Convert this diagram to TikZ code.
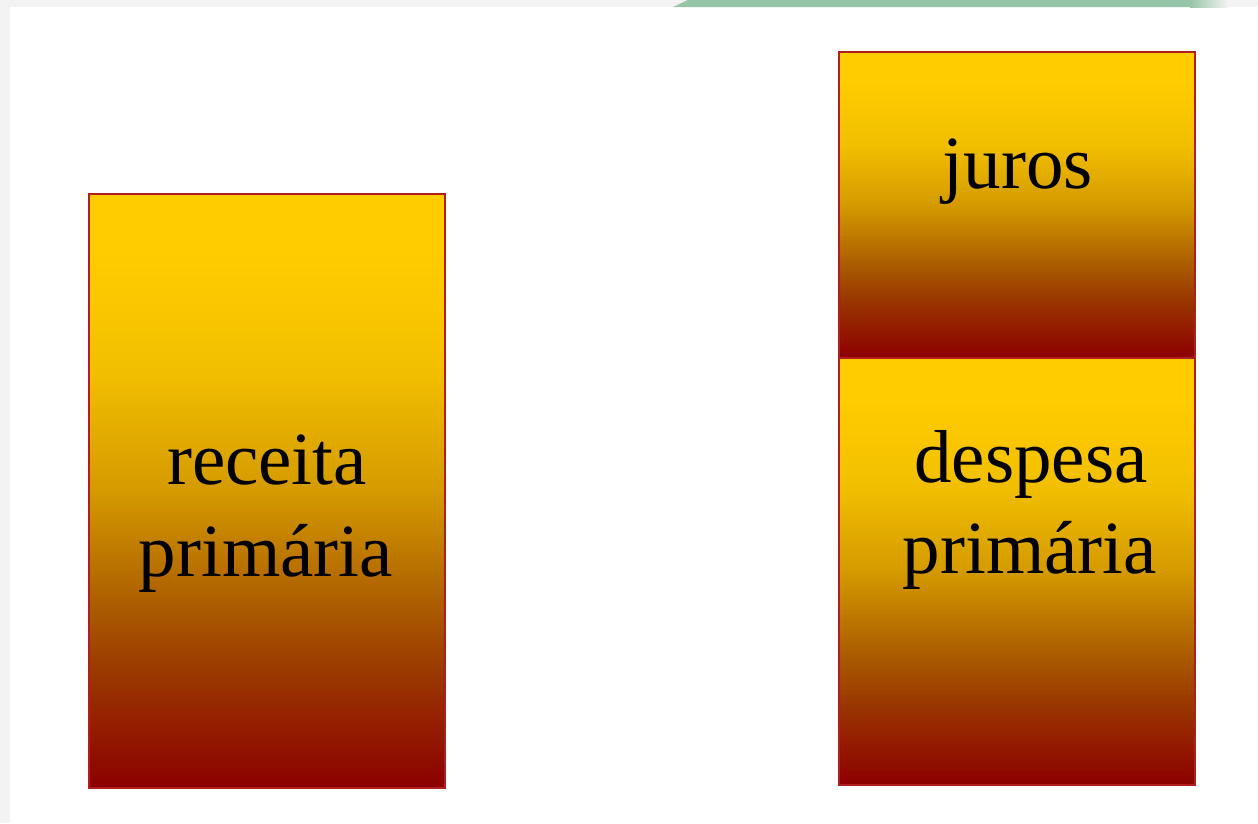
\documentclass[tikz,border=0pt]{standalone}
\usepackage{fontspec}
\setmainfont{Liberation Serif}
\usetikzlibrary{positioning}

\definecolor{pagegrey}{RGB}{243,243,243}
\definecolor{tabgreen}{RGB}{151,197,168}
\definecolor{boxedge}{RGB}{178,30,30}
\definecolor{gr0}{RGB}{139,0,0}
\definecolor{gr1}{RGB}{148,28,0}
\definecolor{gr2}{RGB}{154,58,0}
\definecolor{gr3}{RGB}{170,90,0}
\definecolor{gr4}{RGB}{191,122,0}
\definecolor{gr5}{RGB}{212,154,0}
\definecolor{gr7}{RGB}{242,191,0}
\definecolor{gr9}{RGB}{255,204,0}
% gold at the top, dark red at the bottom
\pgfdeclareverticalshading{goldred}{100bp}{color(0bp)=(gr0); color(25bp)=(gr0);
  color(30bp)=(gr1); color(35bp)=(gr2); color(40bp)=(gr3); color(45bp)=(gr4);
  color(50bp)=(gr5); color(60bp)=(gr7); color(70bp)=(gr9); color(100bp)=(gr9)}

\begin{document}
\begin{tikzpicture}[x=0.02cm, y=-0.02cm,
    box/.style={draw=boxedge, line width=1.1pt, shading=goldred},
    lbl/.style={anchor=base, inner sep=0pt, font=\fontsize{42.7}{51}\selectfont}]
    \useasboundingbox (0,0) rectangle (1258,823);
    % Page background and slide area
    \fill[pagegrey] (0,0) rectangle (1258,823);
    \fill[white] (10,7) rectangle (1258,823);
    % Green tab peeking in at the top
    \fill[tabgreen] (673,7) -- (688,0) -- (1190,0) -- (1190,7) -- cycle;
    \shade[left color=tabgreen, right color=pagegrey] (1190,0) rectangle (1228,7);

    % Left column: revenue
    \shadedraw[box] (89,194) rectangle (445,788);
    % Right column: interest on top of spending
    \shadedraw[box] (839,52) rectangle (1195,358);
    \shadedraw[box] (839,358) rectangle (1195,785);

    % Labels (placed on their baselines)
    \node[lbl] (receita) at (267,484) {receita};
    \node[lbl] (primL) at (266,576) {primária};
    \node[lbl] (juros) at (1018,188) {juros};
    \node[lbl] (despesa) at (1031,482) {despesa};
    \node[lbl] (primR) at (1030,573) {primária};
  \end{tikzpicture}
\end{document}
